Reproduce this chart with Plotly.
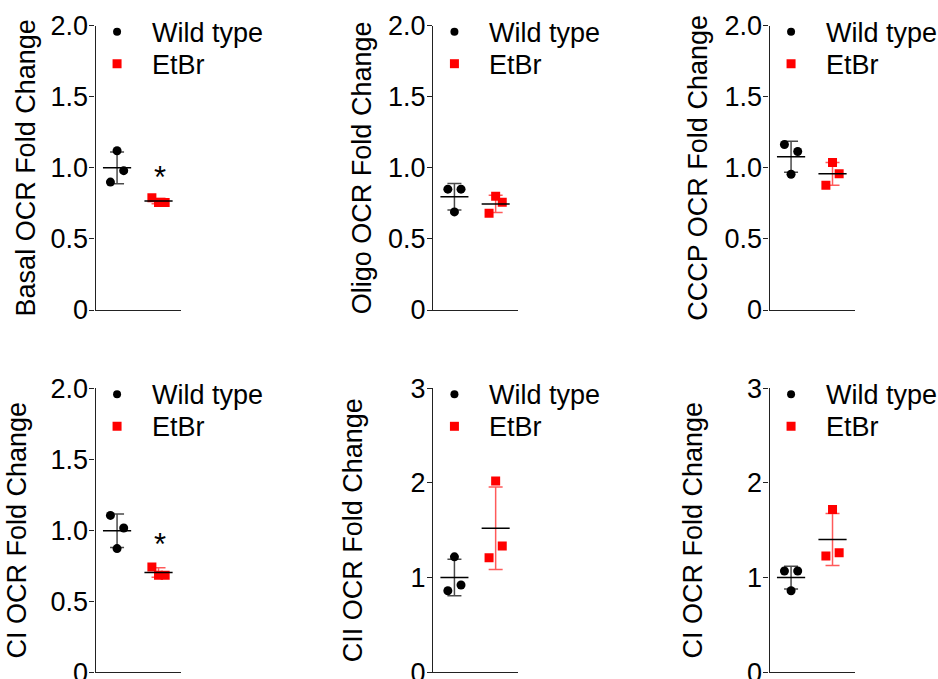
import numpy as np
import plotly.graph_objects as go

# ---------------- data ----------------
y_titles = ["Basal OCR Fold Change", "Oligo OCR Fold Change", "CCCP OCR Fold Change",
            "CI OCR Fold Change", "CII OCR Fold Change", "CI OCR Fold Change"]
groups = ["Wild type", "EtBr"]

wt_basal = [1.12, 0.90, 0.98]
etbr_basal = [0.79, 0.756, 0.756]
wt_oligo = [0.85, 0.85, 0.69]
etbr_oligo = [0.68, 0.80, 0.758]
wt_cccp = [1.164, 1.115, 0.955]
etbr_cccp = [0.878, 1.037, 0.958]
wt_ci = [1.105, 1.016, 0.871]
etbr_ci = [0.742, 0.684, 0.684]
wt_cii = [1.22, 0.862, 0.922]
etbr_cii = [2.02, 1.21, 1.334]
wt_ci2 = [1.07, 1.07, 0.862]
etbr_ci2 = [1.72, 1.228, 1.263]

y_tickvals_2 = [0, 0.5, 1.0, 1.5, 2.0]
y_ticktext_2 = ["0", "0.5", "1.0", "1.5", "2.0"]
y_tickvals_3 = [0, 1, 2, 3]
y_ticktext_3 = ["0", "1", "2", "3"]

significant = [True, False, False, True, False, False]
sig_y = [0.935, None, None, 0.90, None, None]

# ---------------- layout / style ----------------
WT_COLOR = "#000000"
ETBR_COLOR = "#ff0000"
WT_ERR = "#4a4a4a"
ETBR_ERR = "#ff5a5a"
FONT = "Liberation Sans, Arial, sans-serif"
FS = 27

panels = [
    (wt_basal, etbr_basal, [0, -1, 1], [-1, 0, 1]),
    (wt_oligo, etbr_oligo, [-1, 1, 0], [-1, 0, 1]),
    (wt_cccp, etbr_cccp, [-1, 1, 0], [-1, 0, 1]),
    (wt_ci, etbr_ci, [-1, 1, 0], [-1, 0, 1]),
    (wt_cii, etbr_cii, [0, -1, 1], [0, -1, 1]),
    (wt_ci2, etbr_ci2, [-1, 1, 0], [0, -1, 1]),
]
yscales = [(2.0, y_tickvals_2, y_ticktext_2)] * 4 + [(3.0, y_tickvals_3, y_ticktext_3)] * 2
title_standoff = [6, 8, 8, 15, 39, 36]

W, H = 938, 679
col_px = [(95.5, 180.5), (433.0, 517.5), (769.5, 854.5)]
row_px = [(25.7, 310.0), (388.3, 672.3)]
JIT = 0.16      # spread step in x units
HALF = 0.34     # half length of mean line

fig = go.Figure()
layout = dict(
    width=W, height=H, margin=dict(l=0, r=0, t=0, b=0, autoexpand=False),
    paper_bgcolor="white", plot_bgcolor="white",
    showlegend=False, font=dict(family=FONT, size=FS, color="black"),
    shapes=[], annotations=[],
)

for i, (wt, et, wt_off, et_off) in enumerate(panels):
    r, c = divmod(i, 3)
    n = "" if i == 0 else str(i + 1)
    xref, yref = "x" + n, "y" + n
    ymax, tv, tt = yscales[i]
    x0p, x1p = col_px[c]
    ytop, ybot = row_px[r]
    layout["xaxis" + n] = dict(
        domain=[x0p / W, x1p / W], anchor=yref, range=[0.48, 2.53], automargin=False,
        showline=True, linecolor="#222222", linewidth=1.3,
        ticks="", showticklabels=False, showgrid=False, zeroline=False, fixedrange=True,
    )
    layout["yaxis" + n] = dict(
        domain=[1 - ybot / H, 1 - ytop / H], anchor=xref, range=[0, ymax], automargin=False,
        showline=True, linecolor="#222222", linewidth=1.3,
        ticks="outside", ticklen=5, tickwidth=1.3, tickcolor="#222222",
        ticklabelstandoff=-4, ticklabeloverflow="allow",
        tickvals=tv, ticktext=tt, tickfont=dict(size=FS, family=FONT, color="black"),
        showgrid=False, zeroline=False, fixedrange=True,
        title=dict(text=y_titles[i], font=dict(size=FS, family=FONT, color="black"),
                   standoff=title_standoff[i]),
    )

    for gi, (vals, offs, col, ecol, sym, msize) in enumerate([
        (wt, wt_off, WT_COLOR, WT_ERR, "circle", 9),
        (et, et_off, ETBR_COLOR, ETBR_ERR, "square", 9),
    ]):
        xc = gi + 1
        v = np.array(vals, dtype=float)
        m = v.mean()
        sd = v.std(ddof=1)
        # error bar (mean +/- SD)
        fig.add_trace(go.Scatter(
            x=[xc], y=[m], mode="markers", marker=dict(size=1, color="rgba(0,0,0,0)"),
            error_y=dict(type="data", array=[sd], color=ecol, thickness=1.5, width=7),
            xaxis=xref, yaxis=yref, hoverinfo="skip", name=groups[gi],
        ))
        # individual points
        fig.add_trace(go.Scatter(
            x=[xc + o * JIT for o in offs], y=vals, mode="markers",
            marker=dict(symbol=sym, size=msize, color=col, line=dict(width=0)),
            xaxis=xref, yaxis=yref, name=groups[gi],
        ))
        # mean line
        fig.add_trace(go.Scatter(
            x=[xc - HALF, xc + HALF], y=[m, m], mode="lines",
            line=dict(color="black", width=1.5),
            xaxis=xref, yaxis=yref, hoverinfo="skip", name=groups[gi],
        ))

    # legend (symbol + text) inside each panel
    ydom = yref + " domain"
    layout["shapes"].append(dict(
        type="circle", xref=xref, yref=ydom, xsizemode="pixel", ysizemode="pixel",
        xanchor=1, yanchor=1, x0=-4, x1=4, y0=-10, y1=-2,
        fillcolor=WT_COLOR, line=dict(width=0)))
    layout["shapes"].append(dict(
        type="rect", xref=xref, yref=ydom, xsizemode="pixel", ysizemode="pixel",
        xanchor=1, yanchor=1, x0=-4.5, x1=4.5, y0=-42.5, y1=-33.5,
        fillcolor=ETBR_COLOR, line=dict(width=0)))
    for gi, dy in enumerate([-7, -39]):
        layout["annotations"].append(dict(
            text=groups[gi], xref=xref, yref=ydom, x=1, y=1, xshift=33, yshift=dy,
            xanchor="left", yanchor="middle", showarrow=False,
            font=dict(size=FS, family=FONT, color="black")))
    if significant[i]:
        layout["annotations"].append(dict(
            text="*", xref=xref, yref=yref, x=2.03, y=sig_y[i],
            xanchor="center", yanchor="middle", showarrow=False,
            font=dict(size=31, family=FONT, color="black")))

fig.update_layout(**layout)
fig.write_html("out.html", config={"displayModeBar": False},
               post_script="document.body.style.margin='0px';")
